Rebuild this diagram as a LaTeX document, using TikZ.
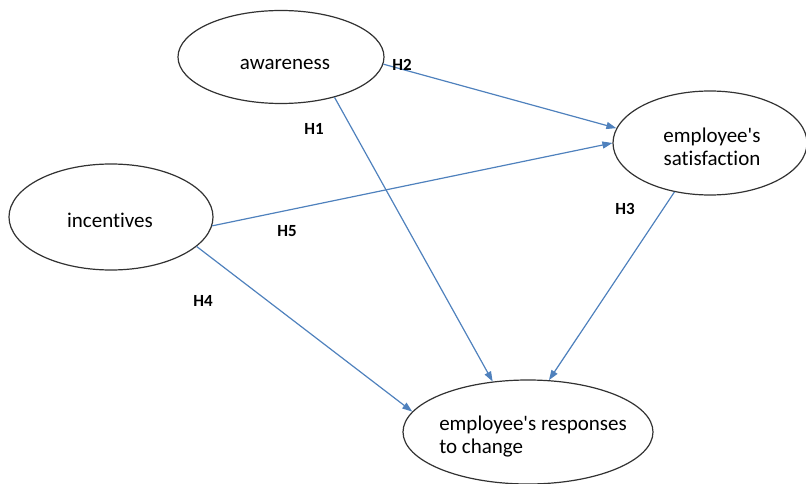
\documentclass[tikz,border=0pt]{standalone}
\usepackage{fontspec}
\setmainfont{Carlito}[Ligatures={TeXOff,CommonOff}]
\usetikzlibrary{shapes.geometric,arrows.meta}
\definecolor{arrowblue}{RGB}{79,129,189}
\definecolor{edgegray}{RGB}{50,50,50}
\tikzset{
  construct/.style={ellipse, draw=edgegray, line width=1.2pt, inner sep=0pt},
  ctext/.style={font=\fontsize{21}{23}\selectfont, text=black, inner sep=0pt},
  link/.style={draw=arrowblue, line width=1.2pt, -{Triangle[length=10pt,width=7pt]}},
  hlabel/.style={font=\fontsize{17}{20}\selectfont\bfseries, text=black, inner sep=0pt}
}
\begin{document}
\begin{tikzpicture}[x=1pt,y=-1pt]
\useasboundingbox (0,0) rectangle (806,484);
\node[construct, minimum width=206pt, minimum height=93pt] (aw) at (281,57) {};
\node[construct, minimum width=194pt, minimum height=104pt] (sat) at (710,143) {};
\node[construct, minimum width=204pt, minimum height=106pt] (inc) at (111,217) {};
\node[construct, minimum width=250pt, minimum height=104pt] (resp) at (528,432) {};

\node[ctext] (awT) at (285,64) {awareness};
\node[ctext, align=center] (satT) at (712,147) {employee's\\satisfaction};
\node[ctext] (incT) at (110,220) {incentives};
\node[ctext, align=left] (respT) at (533,437) {employee's responses\\to change};

\draw[link] (aw.-4.5) -- (sat.171);
\draw[link] (inc.-5) -- (sat.180);
\draw[link] (aw.-37.6) -- (resp.125.5);
\draw[link] (sat.-126.5) -- (resp.68.6);
\draw[link] (inc.-19.2) -- (resp.170.7);

\node[hlabel] (h1) at (314,129) {H1};
\node[hlabel] (h2) at (402,65) {H2};
\node[hlabel] (h3) at (625,209) {H3};
\node[hlabel] (h4) at (203,301) {H4};
\node[hlabel] (h5) at (287,231) {H5};
\end{tikzpicture}
\end{document}
